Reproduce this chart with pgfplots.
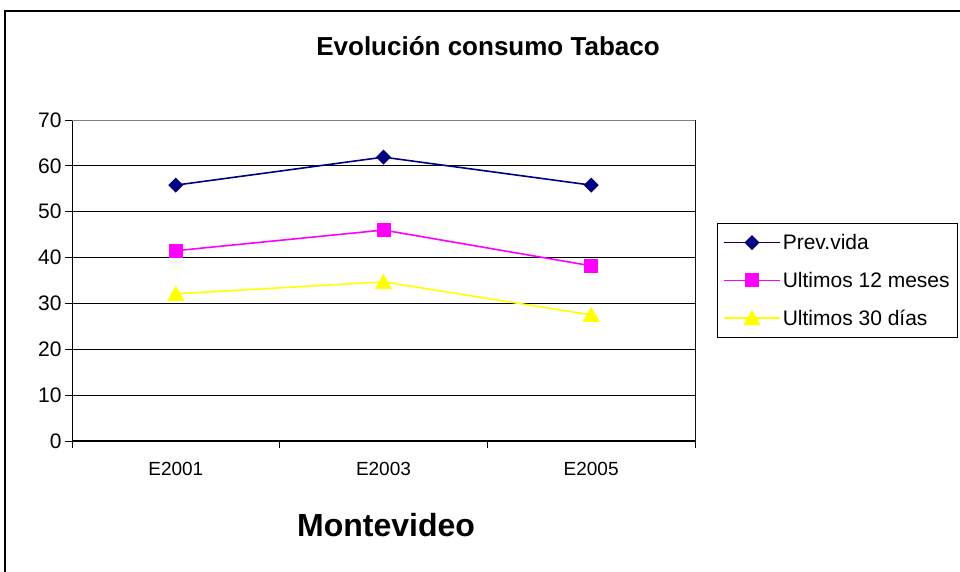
\documentclass[border=0pt]{standalone}
\usepackage{fontspec}
\setmainfont{Liberation Sans}
\usepackage{pgfplots}
\pgfplotsset{compat=1.18}
\definecolor{prevnavy}{RGB}{0,0,128}
\definecolor{mag}{RGB}{255,0,255}
\definecolor{yel}{RGB}{255,255,0}
\begin{document}
\begin{tikzpicture}[x=1pt,y=1pt]
\path[use as bounding box] (0,0) rectangle (960,572);
\draw[line width=2pt] (5,-5) -- (5,561) -- (970,561);
\node[font=\bfseries\fontsize{26}{30}\selectfont] at (488,526) {Evolución consumo Tabaco};
\node[font=\bfseries\fontsize{32}{36}\selectfont] at (386,47) {Montevideo};
\begin{axis}[
  at={(72pt,131pt)}, anchor=south west,
  scale only axis, width=623pt, height=321pt,
  xmin=0.5, xmax=3.5, ymin=0, ymax=70,
  xtick={0.5,1.5,2.5,3.5},
  xticklabels={E2001,E2003,E2005,{}},
  xticklabel style={xshift=103.8pt, yshift=-11pt, font=\fontsize{19}{22}\selectfont},
  ytick={0,10,...,70},
  yticklabel style={font=\fontsize{21}{24}\selectfont},
  xtick pos=bottom, ytick pos=left,
  tick align=outside, major tick length=7pt,
  tick style={black, line width=0.8pt},
  ymajorgrids, grid style={black, line width=0.8pt},
  axis line style={black, line width=1pt},
  /pgf/number format/assume math mode=true,
  legend cell align=left,
  legend style={at={(1.0353,0.679)}, anchor=north west, draw=black, fill=white,
    font=\fontsize{21}{24}\selectfont, inner xsep=6pt, inner ysep=9pt, row sep=17pt},
  legend image code/.code={\draw[mark repeat=2,mark phase=2,#1] plot coordinates {(0pt,0pt) (28pt,0pt) (56pt,0pt)};},
]
\addplot[prevnavy, line width=1.6pt, mark=square*, mark options={solid, rotate=45, mark size=4.5pt}]
  coordinates {(1,55.8) (2,61.9) (3,55.8)};
\addlegendentry{Prev.vida}
\addplot[mag, line width=1.6pt, mark=square*, mark options={solid, mark size=6.2pt}]
  coordinates {(1,41.5) (2,46.0) (3,38.2)};
\addlegendentry{Ultimos 12 meses}
\addplot[yel, line width=1.6pt, mark=triangle*, mark options={solid, mark size=8.5pt, yshift=-2pt}]
  coordinates {(1,32.1) (2,34.7) (3,27.5)};
\addlegendentry{Ultimos 30 días}
\draw[gray, line width=1pt] (rel axis cs:0,1) -- (rel axis cs:1,1) -- (rel axis cs:1,0);
\end{axis}
\end{tikzpicture}
\end{document}
